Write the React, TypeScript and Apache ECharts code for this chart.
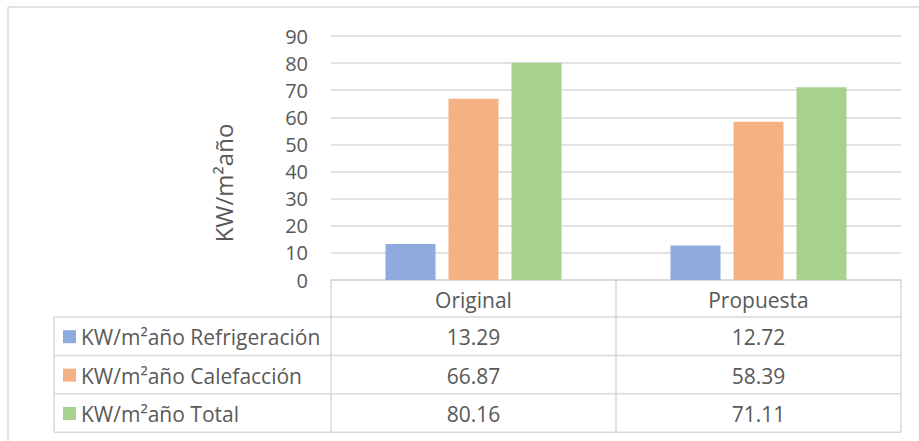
import React, { useEffect, useRef } from "react";
import * as echarts from "echarts";

const categories = ["Original", "Propuesta"];
const seriesNames = [
  "KW/m²año Refrigeración",
  "KW/m²año Calefacción",
  "KW/m²año Total",
];
const refrigeracion = [13.29, 12.72];
const calefaccion = [66.87, 58.39];
const total = [80.16, 71.11];
const colors = ["#8FAADC", "#F4B183", "#A9D18E"];
const axisTitle = "KW/m²año";

const W = 919;
const H = 441;
const FONT = "'Open Sans', 'Noto Sans', sans-serif";
const TEXT = "#595959";
const LINE = "#D9D9D9";

// plot / table geometry
const plotLeft = 331;
const plotRight = 901;
const plotTop = 36;
const plotBottom = 280;
const tableLeft = 54;
const headerBottom = 317;
const rowH = 38.4;

export default function App() {
  const ref = useRef<HTMLDivElement>(null);

  useEffect(() => {
    if (!ref.current) return;
    const chart = echarts.init(ref.current, undefined, { renderer: "svg" });
    const values = [refrigeracion, calefaccion, total];

    const colW = (plotRight - plotLeft) / categories.length;
    const rows = values.length;
    const tableBottom = headerBottom + rows * rowH;
    const graphics: any[] = [];
    const hline = (x1: number, x2: number, y: number) =>
      graphics.push({
        type: "line",
        shape: { x1, y1: y, x2, y2: y },
        style: { stroke: LINE, lineWidth: 1.5 },
        silent: true,
      });
    const vline = (x: number, y1: number, y2: number) =>
      graphics.push({
        type: "line",
        shape: { x1: x, y1, x2: x, y2 },
        style: { stroke: LINE, lineWidth: 1.5 },
        silent: true,
      });

    // chart frame
    hline(8, W + 2, 7);
    vline(8, 7, H + 2);

    // data table lines
    for (let r = 0; r <= rows; r++) hline(tableLeft, plotRight, headerBottom + r * rowH);
    vline(tableLeft, headerBottom, tableBottom);
    for (let c = 0; c <= categories.length; c++) vline(plotLeft + c * colW, plotBottom, tableBottom);

    // column headers
    categories.forEach((cat, c) => {
      graphics.push({
        type: "text",
        x: plotLeft + (c + 0.5) * colW,
        y: (plotBottom + headerBottom) / 2 + 1,
        style: {
          text: cat,
          fill: TEXT,
          font: `21px ${FONT}`,
          textAlign: "center",
          textVerticalAlign: "middle",
        },
      });
    });

    // rows: legend key + name + values
    seriesNames.forEach((name, r) => {
      const cy = headerBottom + (r + 0.5) * rowH + 1;
      graphics.push({
        type: "rect",
        shape: { x: 63, y: cy - 7, width: 13, height: 13 },
        style: { fill: colors[r] },
      });
      graphics.push({
        type: "text",
        x: 81,
        y: cy,
        style: {
          text: name,
          fill: TEXT,
          font: `21px ${FONT}`,
          textAlign: "left",
          textVerticalAlign: "middle",
        },
      });
      values[r].forEach((v, c) => {
        graphics.push({
          type: "text",
          x: plotLeft + (c + 0.5) * colW,
          y: cy,
          style: {
            text: v.toFixed(2),
            fill: TEXT,
            font: `21px ${FONT}`,
            textAlign: "center",
            textVerticalAlign: "middle",
          },
        });
      });
    });

    // axis title
    graphics.push({
      type: "text",
      x: 223,
      y: 183,
      rotation: Math.PI / 2,
      style: {
        text: axisTitle,
        fill: TEXT,
        font: `24px ${FONT}`,
        textAlign: "center",
        textVerticalAlign: "middle",
      },
    });

    chart.setOption({
      animation: false,
      backgroundColor: "#FFFFFF",
      grid: {
        left: plotLeft,
        right: W - plotRight,
        top: plotTop,
        bottom: H - plotBottom,
        containLabel: false,
      },
      xAxis: {
        type: "category",
        data: categories,
        axisLine: { show: true, lineStyle: { color: LINE, width: 1.5 } },
        axisTick: { show: false },
        axisLabel: { show: false },
      },
      yAxis: {
        type: "value",
        min: 0,
        max: 90,
        interval: 10,
        axisLine: { show: false },
        axisTick: { show: false },
        axisLabel: {
          color: TEXT,
          fontSize: 20,
          fontFamily: FONT,
          margin: 23,
        },
        splitLine: { lineStyle: { color: LINE, width: 1.5 } },
      },
      series: values.map((vals, i) => ({
        name: seriesNames[i],
        type: "bar",
        data: vals,
        barWidth: 50,
        barGap: "26%",
        barCategoryGap: "38%",
        itemStyle: { color: colors[i] },
      })),
      graphic: graphics,
    });

    return () => chart.dispose();
  }, []);

  return (
    <div
      ref={ref}
      style={{ position: "fixed", left: 0, top: 0, width: W, height: H, background: "#fff" }}
    />
  );
}
